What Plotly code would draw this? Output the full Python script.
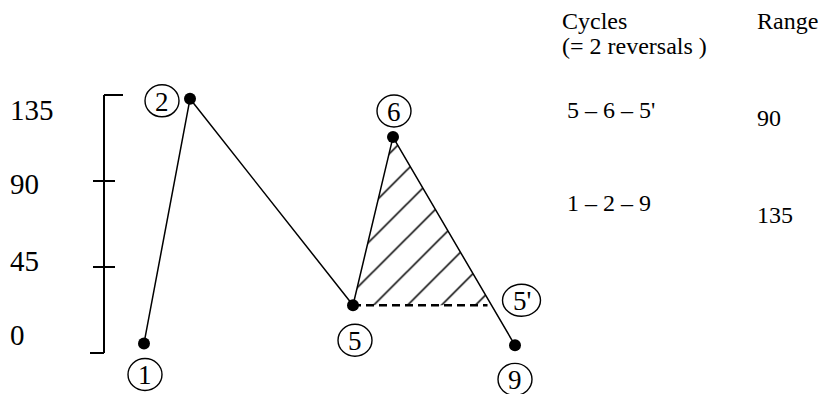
import plotly.graph_objects as go

# ---- data -------------------------------------------------------------
point_ids = ["1", "2", "5", "6", "9"]          # reversal numbers shown
point_x = [144, 190, 353, 393, 515]             # position along the load history
point_y = [5, 133, 25, 113, 4]                  # load level

scale_ticks = [0, 45, 90, 135]
scale_labels = ["0", "45", "90", "135"]

cycle_names = ["5 – 6 – 5'", "1 – 2 – 9"]
cycle_ranges = ["90", "135"]

# ---- derived geometry ---------------------------------------------------
x1, x2, x5, x6, x9 = point_x
y1, y2, y5, y6, y9 = point_y
# 5' : where the branch 6 -> 9 returns to the level of 5
t = (y5 - y6) / (y9 - y6)
x5p = x6 + t * (x9 - x6)

FONT = "Liberation Serif, Times New Roman, serif"
fig = go.Figure()

# hatched closed cycle 5-6-5'
fig.add_trace(go.Scatter(
    x=[x5, x6, x5p, x5], y=[y5, y6, y5, y5], mode="lines", fill="toself",
    line=dict(width=0), fillcolor="rgba(0,0,0,0)",
    fillpattern=dict(shape="/", fgcolor="black", fgopacity=1, bgcolor="white",
                     size=24, solidity=0.065),
    hoverinfo="skip", showlegend=False))

# dashed closing line 5 -> 5'
fig.add_trace(go.Scatter(
    x=[x5, x5p - 4], y=[y5, y5], mode="lines",
    line=dict(color="black", width=2.6, dash="8px,5px"), showlegend=False))

# load history
fig.add_trace(go.Scatter(
    x=point_x, y=point_y, mode="lines+markers",
    line=dict(color="black", width=1.5),
    marker=dict(color="black", size=12), showlegend=False))

# ---- scale bar ----------------------------------------------------------
bar_x = 104
line = dict(color="black", width=2)
fig.add_shape(type="line", x0=bar_x, x1=bar_x, y0=scale_ticks[0], y1=scale_ticks[-1],
              xref="x", yref="y", line=line)
for v in scale_ticks:
    if v == scale_ticks[0]:
        xa, xb = bar_x - 14, bar_x
    elif v == scale_ticks[-1]:
        xa, xb = bar_x, bar_x + 19
    else:
        xa, xb = bar_x - 11, bar_x + 11
    fig.add_shape(type="line", x0=xa, x1=xb, y0=v, y1=v, xref="x", yref="y", line=line)

label_shift = {0: 18, 45: 6, 90: -3, 135: -15}
for v, lab in zip(scale_ticks, scale_labels):
    fig.add_annotation(x=8, y=v, text=lab, xref="x", yref="y", showarrow=False,
                       xanchor="left", yanchor="middle", yshift=label_shift[v],
                       font=dict(family=FONT, size=29, color="black"))

# ---- circled reversal labels --------------------------------------------
offsets = {"1": (1, -31), "2": (-28, -2), "5": (2, -35), "6": (1, 26), "9": (0, -34)}
anchors = [(pid, px, py, 17) for pid, px, py in zip(point_ids, point_x, point_y)]
anchors.append(("5'", x5p, y5, 19))
offsets["5'"] = (30, 5)
for pid, px, py, rx in anchors:
    dx, dy = offsets[pid]
    ry = 16
    fig.add_shape(type="circle", xref="x", yref="y", xsizemode="pixel", ysizemode="pixel",
                  xanchor=px, yanchor=py, x0=dx - rx, x1=dx + rx, y0=dy - ry, y1=dy + ry,
                  line=dict(color="black", width=1.4))
    fig.add_annotation(x=px, y=py, xref="x", yref="y", text=pid, showarrow=False,
                       xshift=dx, yshift=dy - 1, xanchor="center", yanchor="middle",
                       font=dict(family=FONT, size=27, color="black"))

# ---- cycles table -------------------------------------------------------
def txt(x, y, s, size=24):
    fig.add_annotation(x=x / 835, y=1 - y / 394, xref="paper", yref="paper", text=s,
                       showarrow=False, xanchor="left", yanchor="middle",
                       font=dict(family=FONT, size=size, color="black"))

txt(560, 21, "Cycles")
txt(560, 46, "(= 2 reversals )")
txt(755, 21, "Range")
row_y = [110, 203]
range_y = [118, 215]
for name, rng, ry_, rgy in zip(cycle_names, cycle_ranges, row_y, range_y):
    txt(565, ry_, name)
    txt(755, rgy, rng)

fig.update_layout(
    width=835, height=394, margin=dict(l=0, r=0, t=0, b=0),
    paper_bgcolor="white", plot_bgcolor="white", showlegend=False,
    xaxis=dict(range=[0, 835], visible=False, fixedrange=True),
    yaxis=dict(range=[-21.45, 184.71], visible=False, fixedrange=True),
)
fig.write_html("out.html", config={"displayModeBar": False},
               post_script="document.body.style.margin='0';document.body.style.overflow='hidden';")
